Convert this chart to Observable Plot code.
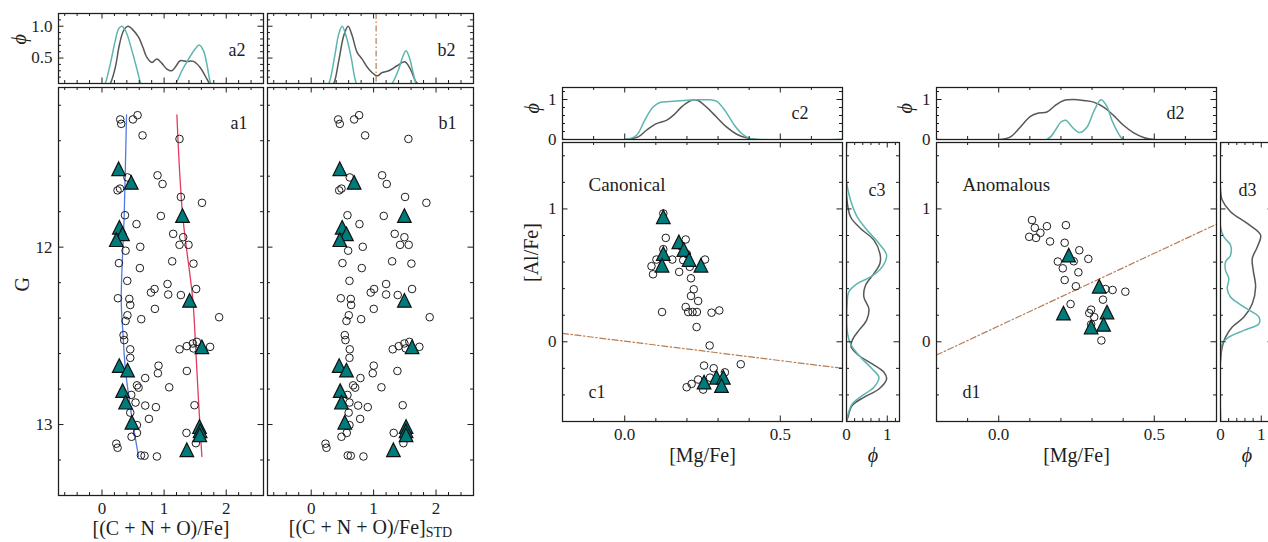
<!DOCTYPE html>
<html>
<head>
<meta charset="utf-8">
<script src="https://cdn.jsdelivr.net/npm/d3@7"></script>
<script src="https://cdn.jsdelivr.net/npm/@observablehq/plot@0.6"></script>
<style>
  html, body { margin: 0; padding: 0; background: #fff; overflow: hidden; }
  #fig { position: relative; width: 1268px; height: 542px; overflow: hidden; background: #fff; }
  #fig svg { position: absolute; }
</style>
</head>
<body>
<div id="fig"></div>
<script>
// ---------------------------------------------------------------------------
// Field stars (open circles): G magnitude and [(C+N+O)/Fe], raw and STD scale
const starG = [
  11.28, 11.305, 11.28, 11.256, 11.37, 11.39, 11.595, 11.644, 11.607, 11.68,
  11.67, 11.717, 11.75, 11.82, 11.87, 11.824, 11.925, 11.944, 11.987, 11.987,
  11.998, 12.02, 12.09, 12.08, 12.093, 12.118, 12.19, 12.208, 12.236, 12.256,
  12.267, 12.27, 12.236, 12.288, 12.292, 12.326, 12.348, 12.384, 12.416, 12.406,
  12.395, 12.496, 12.524, 12.576, 12.576, 12.558, 12.543, 12.534, 12.571, 12.562,
  12.624, 12.668, 12.711, 12.698, 12.738, 12.779, 12.792, 12.79, 12.833, 12.876,
  12.893, 12.902, 12.891, 12.933, 12.968, 13.003, 13.047, 13.047, 13.069, 13.105,
  13.108, 13.131, 13.174, 13.176, 13.18
];
const starCNO = [
  0.294, 0.31, 0.498, 0.573, 0.653, 1.248, 0.894, 0.975, 0.41, 0.25,
  0.29, 1.27, 1.61, 0.37, 0.556, 0.948, 1.146, 1.307, 1.248, 1.393,
  0.616, 0.38, 0.273, 1.13, 1.473, 0.61, 0.407, 1.055, 0.846, 0.788,
  1.066, 1.27, 1.516, 0.257, 0.44, 0.455, 0.852, 0.41, 0.38, 0.632,
  1.886, 0.347, 0.358, 0.455, 1.248, 1.366, 1.463, 1.527, 1.473, 1.74,
  0.455, 0.91, 0.9, 1.366, 0.696, 0.563, 0.589, 1.082, 0.471, 0.54,
  0.696, 0.868, 1.489, 0.455, 0.756, 0.563, 0.563, 1.36, 0.476, 1.511,
  0.23, 0.251, 0.627, 0.685, 0.884
];
const starCNOstd = [
  0.432, 0.458, 0.688, 0.768, 0.864, 1.557, 1.136, 1.21, 0.618, 0.448,
  0.485, 1.504, 1.845, 0.581, 0.773, 1.162, 1.338, 1.493, 1.424, 1.562,
  0.826, 0.592, 0.501, 1.296, 1.605, 0.81, 0.613, 1.2, 1.008, 0.954,
  1.2, 1.386, 1.616, 0.474, 0.634, 0.64, 1.002, 0.602, 0.565, 0.8,
  1.898, 0.538, 0.549, 0.618, 1.306, 1.402, 1.493, 1.573, 1.514, 1.733,
  0.613, 1.002, 0.986, 1.381, 0.789, 0.672, 0.704, 1.125, 0.581, 0.613,
  0.752, 0.906, 1.466, 0.6, 0.784, 0.613, 0.57, 1.322, 0.485, 1.477,
  0.229, 0.245, 0.586, 0.634, 0.837
];

// Cluster members (filled triangles)
const memberG = [11.558, 11.635, 11.822, 11.888, 11.925, 11.958, 12.30, 12.562, 12.668,
  12.693, 12.809, 12.874, 12.987, 13.011, 13.035, 13.058, 13.142];
const memberCNO = [0.268, 0.471, 1.296, 0.28, 0.33, 0.23, 1.41, 1.608, 0.278,
  0.412, 0.331, 0.38, 0.482, 1.57, 1.58, 1.575, 1.366];
const memberCNOstd = [0.458, 0.688, 1.493, 0.496, 0.565, 0.458, 1.493, 1.616, 0.448,
  0.565, 0.464, 0.485, 0.538, 1.52, 1.52, 1.52, 1.317];

// Sequence fits in the G vs [(C+N+O)/Fe] plane
const blueFitG = [11.255, 11.81, 12.30, 12.49, 12.68, 12.90, 13.18];
const blueFitCNO = [0.395, 0.358, 0.31, 0.338, 0.375, 0.455, 0.589];
const redFitG = [11.255, 11.81, 12.30, 12.58, 12.86, 13.18];
const redFitCNO = [1.206, 1.296, 1.463, 1.51, 1.553, 1.608];

// Normalised densities along [(C+N+O)/Fe]
const a2GreyX = [0.05, 0.133, 0.214, 0.283, 0.348, 0.418, 0.482, 0.589, 0.659, 0.723, 0.804, 0.884,
  0.965, 1.045, 1.125, 1.195, 1.259, 1.366, 1.473, 1.58, 1.661, 1.73, 1.8];
const a2GreyPhi = [0.0, 0.099, 0.352, 0.72, 0.932, 1.0, 0.959, 0.827, 0.669, 0.51, 0.431, 0.484,
  0.416, 0.326, 0.3, 0.379, 0.458, 0.447, 0.447, 0.352, 0.22, 0.099, 0.0];
const a2TealX = [0.0, 0.053, 0.133, 0.214, 0.267, 0.321, 0.39, 0.482, 0.563, 0.627, 0.7, 1.1,
  1.19, 1.286, 1.393, 1.5, 1.564, 1.633, 1.688, 1.752, 1.82];
const a2TealPhi = [0.0, 0.099, 0.405, 0.774, 0.959, 1.0, 0.906, 0.616, 0.326, 0.099, 0.0, 0.0,
  0.099, 0.3, 0.484, 0.642, 0.706, 0.616, 0.405, 0.099, 0.0];
const b2GreyX = [0.28, 0.362, 0.442, 0.522, 0.592, 0.656, 0.736, 0.816, 0.922, 1.056, 1.136, 1.242,
  1.376, 1.498, 1.589, 1.669, 1.706, 1.78];
const b2GreyPhi = [0, 0.099, 0.458, 0.853, 1.0, 0.853, 0.59, 0.484, 0.326, 0.22, 0.273, 0.3,
  0.379, 0.442, 0.326, 0.141, 0.099, 0];
const b2TealX = [0.2, 0.282, 0.373, 0.442, 0.496, 0.565, 0.64, 0.725, 0.8, 1.2, 1.296, 1.402,
  1.472, 1.52, 1.573, 1.632, 1.68, 1.76];
const b2TealPhi = [0, 0.099, 0.51, 0.88, 1.0, 0.827, 0.51, 0.099, 0, 0, 0.099, 0.326,
  0.537, 0.616, 0.51, 0.273, 0.099, 0];
const stdSplit = [1.04];

// Canonical and anomalous groups in the [Al/Fe] vs [Mg/Fe] plane
const canonMg = [0.124, 0.132, 0.196, 0.124, 0.102, 0.153, 0.188, 0.258, 0.086, 0.091,
  0.175, 0.209, 0.213, 0.222, 0.213, 0.236, 0.196, 0.204, 0.218, 0.232,
  0.12, 0.279, 0.304, 0.231, 0.273, 0.255, 0.286, 0.373, 0.236, 0.215,
  0.199, 0.252, 0.322, 0.274, 0.18, 0.2];
const canonAl = [0.966, 0.782, 0.77, 0.697, 0.619, 0.619, 0.614, 0.619, 0.569, 0.508,
  0.526, 0.564, 0.478, 0.395, 0.345, 0.307, 0.262, 0.224, 0.224, 0.224,
  0.224, 0.219, 0.236, 0.111, -0.028, -0.179, -0.199, -0.169, -0.284, -0.317,
  -0.342, -0.36, -0.23, -0.27, 0.72, 0.66];
const canonMemberMg = [0.124, 0.174, 0.19, 0.207, 0.124, 0.12, 0.245, 0.255, 0.295, 0.317, 0.311];
const canonMemberAl = [0.941, 0.752, 0.694, 0.619, 0.664, 0.576, 0.576, -0.304, -0.267, -0.267, -0.33];
const anomMg = [0.107, 0.116, 0.155, 0.216, 0.134, 0.098, 0.12, 0.165, 0.212, 0.259,
  0.288, 0.19, 0.241, 0.206, 0.256, 0.212, 0.248, 0.343, 0.366, 0.407,
  0.335, 0.231, 0.297, 0.291, 0.307, 0.297, 0.33];
const anomAl = [0.916, 0.858, 0.87, 0.878, 0.82, 0.79, 0.782, 0.755, 0.745, 0.689,
  0.624, 0.604, 0.606, 0.553, 0.523, 0.465, 0.418, 0.397, 0.39, 0.377,
  0.317, 0.284, 0.242, 0.216, 0.186, 0.131, 0.01];
const anomMemberMg = [0.225, 0.323, 0.208, 0.348, 0.297, 0.337];
const anomMemberAl = [0.652, 0.418, 0.216, 0.224, 0.111, 0.131];

// Dividing lines between high- and low-Al stars
const canonCutMg = [-0.2, 0.7];
const canonCutAl = [0.063, -0.2];
const anomCutMg = [-0.2, 0.7];
const anomCutAl = [-0.1, 0.885];

// Normalised densities along [Mg/Fe] (top) and [Al/Fe] (side)
const c2GreyMg = [-0.2, 0.0, 0.043, 0.07, 0.102, 0.134, 0.156, 0.182, 0.209, 0.225, 0.236, 0.263,
  0.295, 0.327, 0.36, 0.392, 0.424, 0.7];
const c2GreyPhi = [0, 0, 0.066, 0.231, 0.397, 0.479, 0.603, 0.81, 0.959, 0.992, 0.975, 0.81,
  0.562, 0.314, 0.132, 0.041, 0, 0];
const c2TealMg = [-0.2, 0.005, 0.038, 0.064, 0.091, 0.113, 0.145, 0.188, 0.231, 0.274, 0.295,
  0.322, 0.349, 0.376, 0.402, 0.435, 0.7];
const c2TealPhi = [0, 0, 0.107, 0.479, 0.81, 0.926, 0.95, 0.975, 0.992, 0.992, 0.959,
  0.727, 0.397, 0.149, 0.025, 0, 0];
const d2GreyMg = [-0.2, 0.005, 0.038, 0.07, 0.102, 0.128, 0.155, 0.182, 0.209, 0.241, 0.273, 0.305,
  0.337, 0.369, 0.401, 0.434, 0.466, 0.498, 0.7];
const d2GreyPhi = [0, 0, 0.066, 0.314, 0.579, 0.661, 0.686, 0.851, 0.975, 1.0, 0.975, 0.934,
  0.81, 0.603, 0.355, 0.165, 0.05, 0, 0];
const d2TealMg = [-0.2, 0.155, 0.182, 0.2, 0.216, 0.236, 0.26, 0.284, 0.307, 0.329, 0.346, 0.364,
  0.385, 0.401, 0.7];
const d2TealPhi = [0, 0, 0.231, 0.438, 0.479, 0.314, 0.174, 0.314, 0.727, 0.992, 0.851, 0.479,
  0.149, 0, 0];
const c3GreyPhi = [0, 0, 0.098, 0.344, 0.672, 0.82, 0.82, 0.672, 0.467, 0.426, 0.549, 0.492,
  0.303, 0.139, 0.115, 0.303, 0.631, 0.918, 0.984, 0.795, 0.426, 0.139, 0.033, 0];
const c3GreyAl = [1.5, 1.104, 0.941, 0.853, 0.765, 0.664, 0.589, 0.513, 0.425, 0.337, 0.249, 0.161,
  0.086, 0.01, -0.04, -0.103, -0.166, -0.229, -0.279, -0.355, -0.418, -0.48, -0.569, -0.6];
const c3TealPhi = [0, 0, 0.098, 0.262, 0.508, 0.795, 0.984, 0.877, 0.59, 0.262, 0.057, 0.016,
  0.016, 0.098, 0.344, 0.631, 0.795, 0.672, 0.385, 0.139, 0.016, 0];
const c3TealAl = [1.5, 1.205, 1.067, 0.941, 0.84, 0.74, 0.652, 0.564, 0.488, 0.438, 0.375, 0.287,
  0.086, -0.015, -0.116, -0.204, -0.267, -0.342, -0.405, -0.468, -0.569, -0.6];
const d3GreyPhi = [0, 0, 0.041, 0.246, 0.656, 0.984, 0.902, 0.779, 0.803, 0.861, 0.779, 0.574,
  0.287, 0.123, 0.041, 0, 0];
const d3GreyAl = [1.5, 1.142, 1.067, 0.979, 0.891, 0.803, 0.714, 0.626, 0.538, 0.413, 0.287, 0.186,
  0.111, 0.035, -0.04, -0.141, -0.6];
const d3TealPhi = [0, 0, 0.082, 0.246, 0.246, 0.123, 0.123, 0.205, 0.164, 0.246, 0.574, 0.943,
  0.943, 0.574, 0.205, 0.041, 0, 0];
const d3TealAl = [1.5, 0.865, 0.79, 0.727, 0.652, 0.601, 0.538, 0.475, 0.4, 0.337, 0.262, 0.186,
  0.136, 0.086, 0.035, -0.015, -0.116, -0.6];

// Tick labels
const cnoTicks = [0, 1, 2];
const gTicks = [12, 13];
const phiTicksA = [0.5, 1.0];
const mgTicks = [0, 0.5];
const alTicks = [0, 1];
const phiTicksC = [0, 1];

// ---------------------------------------------------------------------------
const INK = "#1e1e1e";
const GREY = "#575757";
const TEAL = "#5db5af";
const MARKER = "#007b7b";
const CUT = "#b97b52";
const SERIF = "'Liberation Serif', 'DejaVu Serif', serif";
const TICK_FONT = 17;
const fig = document.getElementById("fig");

// upward triangle as tall as it is wide, centred on its bounding box
const triangleUp = {
  draw(ctx, size) {
    const a = Math.sqrt(size / Math.PI);
    ctx.moveTo(0, -a);
    ctx.lineTo(a, a);
    ctx.lineTo(-a, a);
    ctx.closePath();
  }
};

// evenly spaced minor tick values, minus the labelled ones
const steps = (lo, hi, step, skip = []) =>
  d3.range(Math.round(lo / step), Math.round(hi / step) + 1)
    .map(k => +(k * step).toFixed(6))
    .filter(v => !skip.some(s => Math.abs(s - v) < 1e-9));

const cnoMinor = steps(-0.6, 2.4, 0.2, cnoTicks);
const gMinor = steps(11.2, 13.2, 0.2, gTicks);
const phiMinorA = steps(0.2, 1.1, 0.1, phiTicksA);
const mgMinor = steps(-0.1, 0.6, 0.1, mgTicks);
const alMinor = steps(-0.4, 1.4, 0.2, alTicks);
const phiMinorC = steps(0.2, 1.2, 0.2, phiTicksC);

const circles = (xs, ys) => Plot.dot(ys, {x: xs, y: ys, r: 3.8, stroke: INK, strokeWidth: 1, fill: "none"});
const triangles = (xs, ys) => Plot.dot(ys, {x: xs, y: ys, r: 6.8, symbol: triangleUp,
  fill: MARKER, stroke: "#111", strokeWidth: 1.2});
const density = (xs, ys, color) => Plot.line(ys, {x: xs, y: ys, stroke: color, strokeWidth: 1.5,
  curve: "catmull-rom", clip: true});
const tag = (s, o) => Plot.text([s], {text: d => d, fontSize: 18, lineAnchor: "bottom", ...o});
const title = (s, o) => Plot.text([s], {text: d => d, fontSize: 20, ...o});

function panel({frame, x, y, xMajor, xMinor, yMajor, yMinor, xLabels, yLabels, marks}) {
  const [x0, x1, y0, y1] = frame;
  const iw = x1 - x0, ih = y1 - y0;
  const m = {top: 12, right: 12, bottom: 48, left: 50};
  const MAJ = 5.5, MIN = 3;
  const tx = (v, len) => [
    Plot.tickX(v, {x: d => d, insetTop: ih - len, stroke: INK, strokeWidth: 1}),
    Plot.tickX(v, {x: d => d, insetBottom: ih - len, stroke: INK, strokeWidth: 1})
  ];
  const ty = (v, len) => [
    Plot.tickY(v, {y: d => d, insetRight: iw - len, stroke: INK, strokeWidth: 1}),
    Plot.tickY(v, {y: d => d, insetLeft: iw - len, stroke: INK, strokeWidth: 1})
  ];
  const axes = [];
  if (xLabels) axes.push(Plot.axisX(xLabels.values, {anchor: "bottom", tickSize: 0, tickPadding: 6,
    tickFormat: xLabels.format, label: null, fontSize: TICK_FONT}));
  if (yLabels) axes.push(Plot.axisY(yLabels.values, {anchor: "left", tickSize: 0, tickPadding: 6,
    tickFormat: yLabels.format, label: null, fontSize: TICK_FONT}));
  const svg = Plot.plot({
    width: iw + m.left + m.right,
    height: ih + m.top + m.bottom,
    marginTop: m.top, marginRight: m.right, marginBottom: m.bottom, marginLeft: m.left,
    x: {...x, axis: xLabels ? undefined : null},
    y: {...y, axis: yLabels ? undefined : null},
    style: {background: "transparent", overflow: "visible", fontFamily: SERIF, fontSize: TICK_FONT + "px", color: INK},
    marks: [
      ...marks.data,
      ...tx(xMajor, MAJ), ...tx(xMinor, MIN),
      ...ty(yMajor, MAJ), ...ty(yMinor, MIN),
      Plot.frame({stroke: INK, strokeWidth: 1.25}),
      ...axes,
      ...(marks.text || [])
    ]
  });
  svg.style.left = (x0 - m.left) + "px";
  svg.style.top = (y0 - m.top) + "px";
  fig.appendChild(svg);
  return svg;
}

const fmt1 = d3.format(".1f");
const fmt0 = d => String(d);
const CNO_LABEL = "[(C + N + O)/Fe]";
const CNO_STD_LABEL = "[(C + N + O)/Fe] ";

// a2: density of [(C+N+O)/Fe]
panel({
  frame: [58, 263, 13, 83],
  x: {domain: [-0.7, 2.6]}, y: {domain: [0.1, 1.2]},
  xMajor: cnoTicks, xMinor: cnoMinor, yMajor: phiTicksA, yMinor: phiMinorA,
  yLabels: {values: phiTicksA, format: fmt1},
  marks: {
    data: [density(a2GreyX, a2GreyPhi, GREY), density(a2TealX, a2TealPhi, TEAL)],
    text: [
      tag("a2", {frameAnchor: "top-right", dx: -18, dy: 42, textAnchor: "end"}),
      title("ϕ", {frameAnchor: "left", dx: -39, dy: -4, rotate: -90, fontStyle: "italic"})
    ]
  }
});

// a1: G against [(C+N+O)/Fe]
panel({
  frame: [58, 263, 87, 495],
  x: {domain: [-0.7, 2.6]}, y: {domain: [11.1, 13.4], reverse: true},
  xMajor: cnoTicks, xMinor: cnoMinor, yMajor: gTicks, yMinor: gMinor,
  xLabels: {values: cnoTicks, format: fmt0}, yLabels: {values: gTicks, format: fmt0},
  marks: {
    data: [
      Plot.line(blueFitG, {x: blueFitCNO, y: blueFitG, stroke: "#5379e6", strokeWidth: 1.3, curve: "catmull-rom"}),
      Plot.line(redFitG, {x: redFitCNO, y: redFitG, stroke: "#e23a5e", strokeWidth: 1.3, curve: "catmull-rom"}),
      circles(starCNO, starG),
      triangles(memberCNO, memberG)
    ],
    text: [
      tag("a1", {frameAnchor: "top-right", dx: -16, dy: 41, textAnchor: "end"}),
      title("G", {frameAnchor: "left", dx: -36, rotate: -90}),
      title(CNO_LABEL, {frameAnchor: "bottom", dy: 39})
    ]
  }
});

// b2: density of [(C+N+O)/Fe]_STD with the split value
panel({
  frame: [267, 473, 13, 83],
  x: {domain: [-0.7, 2.6]}, y: {domain: [0.1, 1.2]},
  xMajor: cnoTicks, xMinor: cnoMinor, yMajor: phiTicksA, yMinor: phiMinorA,
  marks: {
    data: [
      Plot.ruleX(stdSplit, {x: d => d, stroke: CUT, strokeWidth: 1.2, strokeDasharray: "6,2.5,1.5,2.5"}),
      density(b2GreyX, b2GreyPhi, GREY), density(b2TealX, b2TealPhi, TEAL)
    ],
    text: [tag("b2", {frameAnchor: "top-right", dx: -18, dy: 42, textAnchor: "end"})]
  }
});

// b1: G against [(C+N+O)/Fe]_STD
const b1 = panel({
  frame: [267, 473, 87, 495],
  x: {domain: [-0.7, 2.6]}, y: {domain: [11.1, 13.4], reverse: true},
  xMajor: cnoTicks, xMinor: cnoMinor, yMajor: gTicks, yMinor: gMinor,
  xLabels: {values: cnoTicks, format: fmt0},
  marks: {
    data: [circles(starCNOstd, starG), triangles(memberCNOstd, memberG)],
    text: [
      tag("b1", {frameAnchor: "top-right", dx: -17, dy: 41, textAnchor: "end"}),
      title(CNO_STD_LABEL, {frameAnchor: "bottom", dy: 38})
    ]
  }
});
// subscript on the STD label
for (const t of b1.querySelectorAll("text")) {
  if (t.textContent === CNO_STD_LABEL) {
    t.textContent = CNO_LABEL;
    const sub = document.createElementNS("http://www.w3.org/2000/svg", "tspan");
    sub.setAttribute("dy", "3.5");
    sub.setAttribute("font-size", "14");
    sub.textContent = "STD";
    t.appendChild(sub);
  }
}

// c2 / c1 / c3: canonical group
panel({
  frame: [562, 842, 87, 139],
  x: {domain: [-0.2, 0.7]}, y: {domain: [0, 1.3]},
  xMajor: mgTicks, xMinor: mgMinor, yMajor: phiTicksC, yMinor: phiMinorC,
  yLabels: {values: phiTicksC, format: fmt0},
  marks: {
    data: [density(c2GreyMg, c2GreyPhi, GREY), density(c2TealMg, c2TealPhi, TEAL)],
    text: [
      tag("c2", {frameAnchor: "top-right", dx: -34, dy: 31.5, textAnchor: "end"}),
      title("ϕ", {frameAnchor: "left", dx: -30, rotate: -90, fontStyle: "italic"})
    ]
  }
});
panel({
  frame: [562, 842, 142, 421],
  x: {domain: [-0.2, 0.7]}, y: {domain: [-0.6, 1.5]},
  xMajor: mgTicks, xMinor: mgMinor, yMajor: alTicks, yMinor: alMinor,
  xLabels: {values: mgTicks, format: fmt1}, yLabels: {values: alTicks, format: fmt0},
  marks: {
    data: [
      Plot.line(canonCutAl, {x: canonCutMg, y: canonCutAl, stroke: CUT, strokeWidth: 1.2, strokeDasharray: "6,2.5,1.5,2.5"}),
      circles(canonMg, canonAl),
      triangles(canonMemberMg, canonMemberAl)
    ],
    text: [
      tag("Canonical", {frameAnchor: "top-left", dx: 26, dy: 48, textAnchor: "start", fontSize: 19}),
      tag("c1", {frameAnchor: "bottom-left", dx: 26, dy: -24, textAnchor: "start"}),
      title("[Al/Fe]", {frameAnchor: "left", dx: -31, rotate: -90}),
      title("[Mg/Fe]", {frameAnchor: "bottom", dy: 40})
    ]
  }
});
panel({
  frame: [846, 899, 142, 421],
  x: {domain: [0, 1.3]}, y: {domain: [-0.6, 1.5]},
  xMajor: phiTicksC, xMinor: phiMinorC, yMajor: alTicks, yMinor: alMinor,
  xLabels: {values: phiTicksC, format: fmt0},
  marks: {
    data: [density(c3GreyPhi, c3GreyAl, GREY), density(c3TealPhi, c3TealAl, TEAL)],
    text: [
      tag("c3", {frameAnchor: "top-left", dx: 22, dy: 53, textAnchor: "start"}),
      title("ϕ", {frameAnchor: "bottom", dy: 40, fontStyle: "italic"})
    ]
  }
});

// d2 / d1 / d3: anomalous group
panel({
  frame: [936, 1216, 87, 139],
  x: {domain: [-0.2, 0.7]}, y: {domain: [0, 1.3]},
  xMajor: mgTicks, xMinor: mgMinor, yMajor: phiTicksC, yMinor: phiMinorC,
  yLabels: {values: phiTicksC, format: fmt0},
  marks: {
    data: [density(d2GreyMg, d2GreyPhi, GREY), density(d2TealMg, d2TealPhi, TEAL)],
    text: [
      tag("d2", {frameAnchor: "top-right", dx: -32, dy: 31.5, textAnchor: "end"}),
      title("ϕ", {frameAnchor: "left", dx: -31, rotate: -90, fontStyle: "italic"})
    ]
  }
});
panel({
  frame: [936, 1216, 142, 421],
  x: {domain: [-0.2, 0.7]}, y: {domain: [-0.6, 1.5]},
  xMajor: mgTicks, xMinor: mgMinor, yMajor: alTicks, yMinor: alMinor,
  xLabels: {values: mgTicks, format: fmt1}, yLabels: {values: alTicks, format: fmt0},
  marks: {
    data: [
      Plot.line(anomCutAl, {x: anomCutMg, y: anomCutAl, stroke: CUT, strokeWidth: 1.2, strokeDasharray: "6,2.5,1.5,2.5"}),
      circles(anomMg, anomAl),
      triangles(anomMemberMg, anomMemberAl)
    ],
    text: [
      tag("Anomalous", {frameAnchor: "top-left", dx: 26, dy: 48, textAnchor: "start", fontSize: 19}),
      tag("d1", {frameAnchor: "bottom-left", dx: 26, dy: -24, textAnchor: "start"}),
      title("[Mg/Fe]", {frameAnchor: "bottom", dy: 40})
    ]
  }
});
panel({
  frame: [1220, 1273, 142, 421],
  x: {domain: [0, 1.3]}, y: {domain: [-0.6, 1.5]},
  xMajor: phiTicksC, xMinor: phiMinorC, yMajor: alTicks, yMinor: alMinor,
  xLabels: {values: phiTicksC, format: fmt0},
  marks: {
    data: [density(d3GreyPhi, d3GreyAl, GREY), density(d3TealPhi, d3TealAl, TEAL)],
    text: [
      tag("d3", {frameAnchor: "top-left", dx: 18, dy: 53, textAnchor: "start"}),
      title("ϕ", {frameAnchor: "bottom", dy: 40, fontStyle: "italic"})
    ]
  }
});
</script>
</body>
</html>
